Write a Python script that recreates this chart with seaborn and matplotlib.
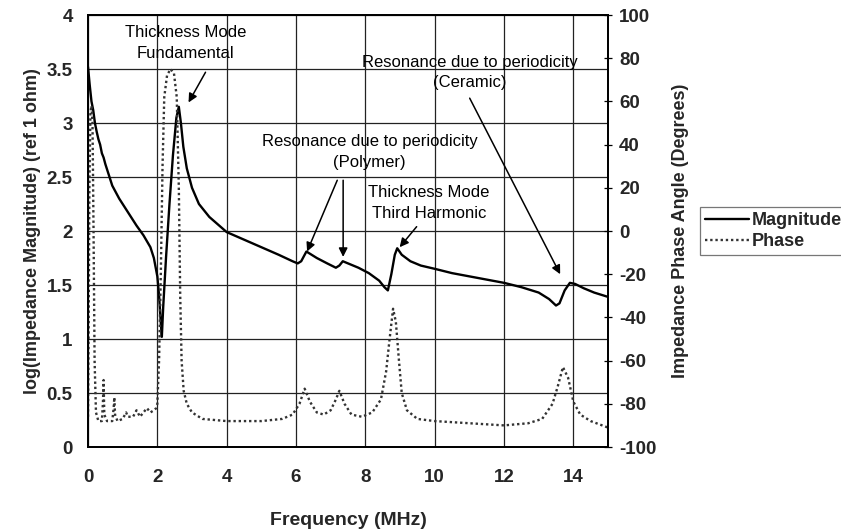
import matplotlib
matplotlib.use("Agg")
import matplotlib.pyplot as plt
import seaborn as sns
import pandas as pd
from matplotlib.lines import Line2D

# ---- data ----
mag_freq = [0.00, 0.05, 0.10, 0.15, 0.20, 0.25, 0.30, 0.35, 0.40, 0.45, 0.50, 0.60, 0.70, 0.80,
            0.90, 1.00, 1.20, 1.40, 1.60, 1.80, 1.90, 2.00, 2.05, 2.10, 2.13, 2.17, 2.25, 2.35,
            2.45, 2.55, 2.62, 2.68, 2.75, 2.85, 3.00, 3.20, 3.50, 4.00, 4.50, 5.00, 5.50, 5.90,
            6.05, 6.15, 6.30, 6.40, 6.60, 6.90, 7.15, 7.25, 7.35, 7.50, 7.80, 8.10, 8.40, 8.55,
            8.65, 8.75, 8.85, 8.92, 9.05, 9.30, 9.60, 10.0, 10.5, 11.0, 11.5, 12.0, 12.5, 13.0,
            13.3, 13.5, 13.6, 13.75, 13.9, 14.05, 14.3, 14.6, 15.0]
magnitude = [3.52, 3.35, 3.20, 3.12, 3.00, 2.92, 2.85, 2.80, 2.72, 2.68, 2.62, 2.52, 2.42, 2.36,
             2.30, 2.25, 2.15, 2.05, 1.96, 1.85, 1.75, 1.58, 1.40, 1.15, 1.02, 1.30, 1.75, 2.25,
             2.70, 3.05, 3.15, 3.00, 2.78, 2.58, 2.40, 2.25, 2.13, 1.99, 1.92, 1.85, 1.78, 1.72,
             1.70, 1.72, 1.81, 1.79, 1.75, 1.70, 1.66, 1.68, 1.72, 1.70, 1.66, 1.61, 1.54, 1.48,
             1.45, 1.60, 1.78, 1.84, 1.78, 1.72, 1.68, 1.65, 1.61, 1.58, 1.55, 1.52, 1.48, 1.43,
             1.37, 1.31, 1.33, 1.45, 1.52, 1.51, 1.47, 1.43, 1.39]

phase_freq = [0.00, 0.02, 0.04, 0.07, 0.10, 0.13, 0.16, 0.19, 0.23, 0.30, 0.40, 0.43, 0.45, 0.47,
              0.55, 0.70, 0.74, 0.76, 0.78, 0.85, 1.00, 1.10, 1.15, 1.30, 1.40, 1.50, 1.60, 1.70,
              1.80, 1.90, 1.97, 2.00, 2.05, 2.10, 2.15, 2.20, 2.28, 2.38, 2.48, 2.56, 2.62, 2.66,
              2.70, 2.76, 2.85, 3.00, 3.30, 4.00, 5.00, 5.60, 5.90, 6.10, 6.25, 6.40, 6.60, 6.80,
              7.00, 7.15, 7.25, 7.40, 7.60, 7.90, 8.20, 8.45, 8.60, 8.70, 8.80, 8.88, 8.97, 9.05,
              9.20, 9.50, 10.0, 11.0, 12.0, 12.7, 13.1, 13.4, 13.55, 13.7, 13.85, 14.0, 14.2, 14.5,
              15.0]
phase = [-86, -40, 20, 55, 58, 50, 0, -60, -84, -88, -88, -80, -69, -85,
         -88, -88, -82, -77, -85, -88, -87, -84, -86, -86, -83, -86, -84, -82,
         -84, -83, -82, -80, -60, -20, 30, 62, 72, 75, 73, 62, 20, -30,
         -60, -74, -80, -84, -87, -88, -88, -87, -85, -80, -73, -79, -84, -85,
         -83, -78, -74, -80, -85, -86, -84, -78, -65, -50, -36, -42, -60, -75,
         -83, -87, -88, -89, -90, -89, -87, -80, -72, -63, -68, -79, -85, -88,
         -91]

x_ticks = [0, 2, 4, 6, 8, 10, 12, 14]
left_ticks = [0, 0.5, 1, 1.5, 2, 2.5, 3, 3.5, 4]
left_tick_labels = ["0", "0.5", "1", "1.5", "2", "2.5", "3", "3.5", "4"]
right_ticks = [-100, -80, -60, -40, -20, 0, 20, 40, 60, 80, 100]

annotations = [
    ("Thickness Mode\nFundamental", (2.81, 3.74), [((3.39, 3.47), (2.90, 3.19))]),
    ("Resonance due to periodicity\n(Polymer)", (8.12, 2.73),
     [((7.19, 2.47), (6.32, 1.81)), ((7.36, 2.47), (7.36, 1.76))]),
    ("Thickness Mode\nThird Harmonic", (9.83, 2.26), [((9.48, 2.04), (8.99, 1.85))]),
    ("Resonance due to periodicity\n(Ceramic)", (11.01, 3.47), [((11.01, 3.23), (13.62, 1.60))]),
]

# ---- plotting ----
sns.set_theme(style="white")
plt.rcParams['font.family'] = ['Liberation Sans', 'DejaVu Sans']

mag_df = pd.DataFrame({"Frequency": mag_freq, "Magnitude": magnitude})
ph_df = pd.DataFrame({"Frequency": phase_freq, "Phase": phase})

fig = plt.figure(figsize=(8.41, 5.30), dpi=100)
ax = fig.add_axes([88 / 841, 1 - 447 / 530, (608 - 88) / 841, (447 - 15) / 530])
ax2 = ax.twinx()

phase_style = (0, (1, 1.2))
sns.lineplot(data=mag_df, x="Frequency", y="Magnitude", ax=ax, color="black",
             linewidth=1.7, estimator=None, sort=False)
sns.lineplot(data=ph_df, x="Frequency", y="Phase", ax=ax2, color="#333333",
             linewidth=1.7, linestyle=phase_style, estimator=None, sort=False)

ax.set_xlim(0, 15)
ax.set_ylim(0, 4)
ax2.set_ylim(-100, 100)
tick_font = dict(fontsize=13.5, fontweight="bold")
ax.set_xticks(x_ticks)
ax.set_xticklabels([str(t) for t in x_ticks], **tick_font)
ax.set_yticks(left_ticks)
ax.set_yticklabels(left_tick_labels, **tick_font)
ax2.set_yticks(right_ticks)
ax2.set_yticklabels([str(t) for t in right_ticks], **tick_font)

ax.grid(True, color="#222222", linewidth=0.9)
ax.tick_params(axis="y", length=0, pad=11)
ax.tick_params(axis="x", direction="inout", length=5, width=0.9, color="black", pad=13)
ax2.tick_params(axis="y", direction="inout", length=6, width=0.9, color="black", pad=5)

for a in (ax, ax2):
    for s in a.spines.values():
        s.set_color("black")
        s.set_linewidth(1.3)

ax.set_xlabel("Frequency (MHz)", fontsize=14, fontweight="bold", labelpad=19)
ax.set_ylabel("log(Impedance Magnitude) (ref 1 ohm)", fontsize=13, fontweight="bold", labelpad=4)
ax2.set_ylabel("Impedance Phase Angle (Degrees)", fontsize=13, fontweight="bold", labelpad=11)

for text, tpos, arrows in annotations:
    ax.text(tpos[0], tpos[1], text, ha="center", va="center", fontsize=12,
            linespacing=1.45, color="black")
    for tail, head in arrows:
        ax.annotate("", xy=head, xytext=tail,
                    arrowprops=dict(arrowstyle="-|>", color="black", lw=1.1,
                                    mutation_scale=13, shrinkA=0, shrinkB=0))

handles = [Line2D([], [], color="black", linewidth=1.7),
           Line2D([], [], color="#333333", linewidth=1.7, linestyle=phase_style)]
leg = fig.legend(handles, ["Magnitude", "Phase"], loc="upper left",
                 bbox_to_anchor=(700 / 841, 1 - 207 / 530),
                 prop=dict(size=13, weight="bold"),
                 frameon=True, fancybox=False, handlelength=2.4, handletextpad=0.15,
                 borderpad=0.3, labelspacing=0.2, borderaxespad=0)
leg.get_frame().set_edgecolor("#555555")
leg.get_frame().set_linewidth(0.9)

fig.savefig("out.png", dpi=100)
